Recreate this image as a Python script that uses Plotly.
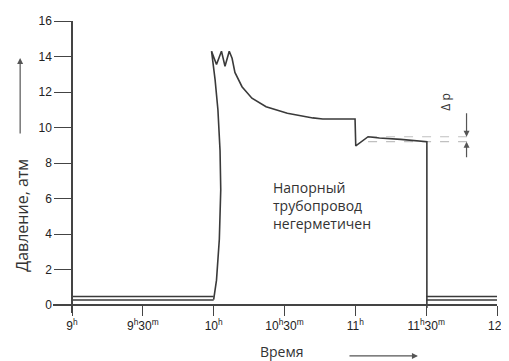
import plotly.graph_objects as go

# ---- data (time in decimal hours, pressure in atm) ----
low_times_left = [9.0, 10.0]
low_times_right = [11.5, 12.0]
low_upper = [0.48, 0.48]
low_lower = [0.28, 0.28]

curve_time = [10.0, 10.02, 10.04, 10.05, 10.045, 10.03, 10.01, 9.985,
              10.02, 10.055, 10.08, 10.11,
              10.13, 10.15, 10.2, 10.27, 10.37, 10.52, 10.7, 10.77, 10.998,
              11.003, 11.09, 11.17, 11.32, 11.505, 11.505]
curve_press = [0.3, 1.4, 3.7, 6.5, 8.7, 11.0, 12.7, 14.3,
               13.55, 14.3, 13.45, 14.3,
               13.9, 13.1, 12.3, 11.65, 11.17, 10.8, 10.54, 10.48, 10.48,
               8.96, 9.48, 9.41, 9.33, 9.2, -0.17]

dp_time = [11.09, 11.79]
dp_upper = [9.48, 9.48]
dp_lower = [9.2, 9.2]

tick_vals = [9, 9.5, 10, 10.5, 11, 11.5, 12]
tick_text = ["9<sup>h</sup>", "9<sup>h</sup>30<sup>m</sup>", "10<sup>h</sup>",
             "10<sup>h</sup>30<sup>m</sup>", "11<sup>h</sup>",
             "11<sup>h</sup>30<sup>m</sup>", "12<sup>h</sup>"]
y_ticks = [0, 2, 4, 6, 8, 10, 12, 14, 16]

LINE = "#3a3a3a"
fig = go.Figure()
for xs, ys in [(low_times_left, low_upper), (low_times_left, low_lower),
               (low_times_right, low_upper), (low_times_right, low_lower)]:
    fig.add_trace(go.Scatter(x=xs, y=ys, mode="lines",
                             line=dict(color=LINE, width=1.6), hoverinfo="skip"))
fig.add_trace(go.Scatter(x=dp_time, y=dp_upper, mode="lines",
                         line=dict(color="#c0c0c0", width=1.2, dash="dash")))
fig.add_trace(go.Scatter(x=dp_time, y=dp_lower, mode="lines",
                         line=dict(color="#c0c0c0", width=1.2, dash="dash")))
fig.add_trace(go.Scatter(x=curve_time, y=curve_press, mode="lines",
                         line=dict(color=LINE, width=1.6)))

x0 = 9 - 19 / 141.67
xr = [x0, 12.0]
yr = [-0.45, 16.0]
ypos = (0 - yr[0]) / (yr[1] - yr[0])
xpos = (9 - xr[0]) / (xr[1] - xr[0])

tickfont = dict(family="Liberation Sans Narrow, Liberation Sans, Arial", size=12, color="#222")
# the page body adds an 8px offset, so the figure is 8px smaller than the window
fig.update_layout(
    width=501, height=353,
    margin=dict(l=45, r=12, t=13, b=48),
    paper_bgcolor="white", plot_bgcolor="white",
    showlegend=False,
    xaxis=dict(range=xr, tickvals=tick_vals, ticktext=tick_text, anchor="free",
               position=ypos, showline=True, linecolor="#444", linewidth=1.5,
               ticks="outside", ticklen=10, tickwidth=1.3, tickcolor="#444",
               showgrid=False, zeroline=False, tickfont=tickfont, automargin=False),
    yaxis=dict(range=yr, tickvals=y_ticks, anchor="free", position=xpos,
               showline=True, linecolor="#444", linewidth=1.5,
               ticks="outside", ticklen=17, tickwidth=1.3, tickcolor="#444",
               showgrid=False, zeroline=False, tickfont=tickfont, automargin=False),
    font=dict(family="Open Sans", color="#333"),
)

annos = [
    dict(text="Напорный<br>трубопровод<br>негерметичен", x=10.405, y=5.6, xref="x", yref="y",
         xanchor="left", yanchor="middle", align="left", showarrow=False,
         font=dict(size=14, family="Open Sans", color="#333")),
    dict(text="Давление, атм", x=-0.07, y=0.336, xref="paper", yref="paper",
         textangle=-90, showarrow=False, xanchor="center", yanchor="middle",
         font=dict(size=16, family="Open Sans", color="#333")),
    dict(text="", x=-0.074, y=0.873, xref="paper", yref="paper", ax=0, ay=77,
         showarrow=True, arrowhead=2, arrowsize=1, arrowwidth=1.2, arrowcolor="#555"),
    dict(text="Время", x=0.516, y=-0.133, xref="paper", yref="paper",
         showarrow=False, xanchor="center", yanchor="middle",
         font=dict(size=14, family="Open Sans", color="#333")),
    dict(text="", x=0.822, y=-0.147, xref="paper", yref="paper", ax=-70, ay=0,
         showarrow=True, arrowhead=2, arrowsize=1, arrowwidth=1.2, arrowcolor="#555"),
    dict(text="Δ p", x=11.64, y=11.4, xref="x", yref="y", textangle=-90,
         showarrow=False, font=dict(size=12, family="Open Sans", color="#333")),
    dict(text="", x=dp_time[1] - 0.005, y=dp_upper[0], xref="x", yref="y", ax=0, ay=-25,
         showarrow=True, arrowhead=2, arrowsize=1, arrowwidth=1.2, arrowcolor="#555"),
    dict(text="", x=dp_time[1] - 0.005, y=dp_lower[0], xref="x", yref="y", ax=0, ay=17,
         showarrow=True, arrowhead=2, arrowsize=1, arrowwidth=1.2, arrowcolor="#555"),
]
fig.update_layout(annotations=annos)

fig.write_html("out.html")
